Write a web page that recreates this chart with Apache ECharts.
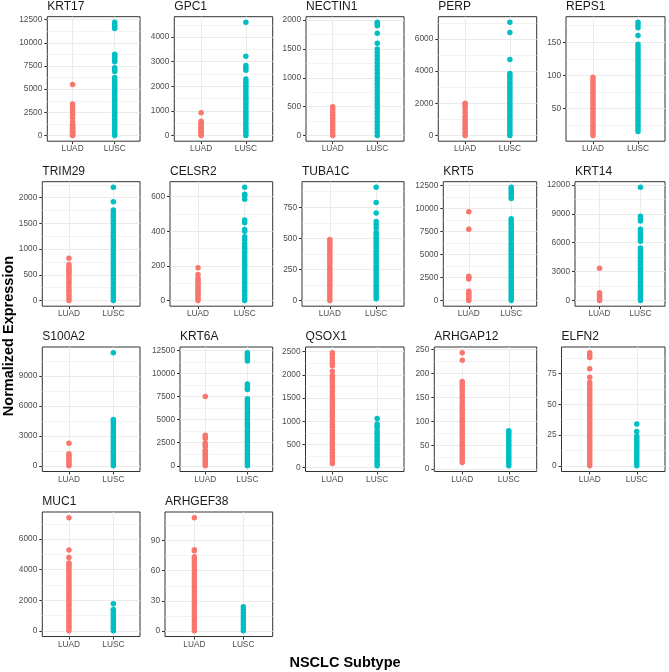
<!DOCTYPE html>
<html><head><meta charset="utf-8">
<script src="https://cdn.jsdelivr.net/npm/echarts@6/dist/echarts.min.js"></script>
<style>html,body{margin:0;padding:0;background:#fff}#c{width:669px;height:672px}</style>
</head><body><div id="c"></div>
<script>
const subtypes = ['LUAD', 'LUSC'];
const genes = ['KRT17','GPC1','NECTIN1','PERP','REPS1','TRIM29','CELSR2','TUBA1C','KRT5','KRT14','S100A2','KRT6A','QSOX1','ARHGAP12','ELFN2','MUC1','ARHGEF38'];

const KRT17_LUAD = [0, 60, 150, 250, 350, 450, 550, 650, 750, 850, 950, 1050, 1200, 1500, 1900, 2250, 2500, 2800, 3150, 3400, 5500];
const KRT17_LUSC = [0, 250, 500, 750, 1000, 1250, 1500, 1750, 2000, 2250, 2500, 2750, 3000, 3250, 3500, 3750, 4000, 4250, 4500, 4750, 5000, 5250, 5500, 5750, 6000, 6250, 6900, 7100, 7300, 7950, 8150, 8350, 8550, 8750, 11550, 11750, 11950, 12200];
const GPC1_LUAD = [0, 50, 100, 150, 200, 250, 300, 350, 400, 450, 500, 580, 930];
const GPC1_LUSC = [0, 100, 200, 300, 400, 500, 600, 700, 800, 900, 1000, 1100, 1200, 1300, 1400, 1500, 1600, 1700, 1800, 1900, 2000, 2100, 2200, 2300, 2650, 2750, 2850, 3220, 4600];
const NECTIN1_LUAD = [0, 50, 100, 150, 200, 250, 300, 350, 400, 450, 500];
const NECTIN1_LUSC = [0, 60, 120, 180, 240, 300, 360, 420, 480, 540, 600, 660, 720, 780, 840, 900, 960, 1020, 1080, 1140, 1200, 1260, 1320, 1380, 1440, 1500, 1600, 1770, 1900, 1930, 1960];
const PERP_LUAD = [0, 150, 300, 450, 600, 750, 900, 1050, 1200, 1400, 1600, 1800, 1950, 2000];
const PERP_LUSC = [0, 150, 300, 450, 600, 750, 900, 1050, 1200, 1350, 1500, 1650, 1800, 1950, 2100, 2250, 2400, 2550, 2700, 2850, 3000, 3150, 3300, 3450, 3600, 3750, 3850, 4730, 6400, 7030];
const REPS1_LUAD = [9, 13, 17, 21, 25, 29, 33, 37, 41, 45, 49, 53, 57, 61, 65, 69, 73, 77, 81, 85, 89, 93, 97];
const REPS1_LUSC = [15, 19, 23, 27, 31, 35, 39, 43, 47, 51, 55, 59, 63, 67, 71, 75, 79, 83, 87, 91, 95, 99, 103, 107, 111, 115, 119, 123, 127, 131, 135, 139, 143, 147, 160, 172, 176, 180];
const TRIM29_LUAD = [0, 50, 100, 150, 200, 250, 300, 350, 400, 450, 500, 550, 580, 620, 650, 700, 820];
const TRIM29_LUSC = [0, 60, 120, 180, 240, 300, 360, 420, 480, 540, 600, 660, 720, 780, 840, 900, 960, 1020, 1080, 1140, 1200, 1260, 1320, 1380, 1440, 1500, 1560, 1620, 1660, 1710, 1760, 1920, 2200];
const CELSR2_LUAD = [0, 13, 26, 39, 52, 65, 78, 91, 104, 117, 130, 150, 190];
const CELSR2_LUSC = [0, 15, 30, 45, 60, 75, 90, 105, 120, 135, 150, 165, 180, 195, 210, 225, 240, 255, 270, 285, 300, 315, 330, 350, 368, 400, 410, 450, 466, 585, 605, 614, 654];
const TUBA1C_LUAD = [0, 20, 40, 60, 80, 100, 120, 140, 160, 180, 200, 220, 240, 260, 280, 300, 320, 340, 360, 380, 400, 420, 440, 460, 480, 490];
const TUBA1C_LUSC = [15, 35, 55, 75, 95, 115, 135, 155, 175, 195, 215, 235, 255, 275, 295, 315, 335, 355, 375, 395, 415, 435, 455, 475, 495, 515, 535, 550, 583, 610, 636, 703, 788, 910];
const KRT5_LUAD = [0, 200, 400, 600, 800, 1000, 2350, 2500, 2650, 7750, 9650];
const KRT5_LUSC = [0, 250, 500, 750, 1000, 1250, 1500, 1750, 2000, 2250, 2500, 2750, 3000, 3250, 3500, 3750, 4000, 4250, 4500, 4750, 5000, 5250, 5500, 5750, 6000, 6250, 6600, 6850, 7100, 7350, 7650, 7900, 8150, 8400, 8650, 8900, 11100, 11350, 11600, 11850, 12100, 12300];
const KRT14_LUAD = [0, 200, 400, 600, 800, 3360];
const KRT14_LUSC = [0, 250, 500, 750, 1000, 1250, 1500, 1750, 2000, 2250, 2500, 2750, 3000, 3250, 3500, 3750, 4000, 4250, 4500, 4750, 5000, 5250, 5450, 6150, 6400, 6650, 6900, 7150, 7400, 8250, 8500, 8750, 11750];
const S100A2_LUAD = [0, 200, 400, 600, 800, 1000, 1200, 2260];
const S100A2_LUSC = [0, 250, 500, 750, 1000, 1250, 1500, 1750, 2000, 2250, 2500, 2750, 3000, 3250, 3500, 3750, 4000, 4300, 4500, 4650, 11330];
const KRT6A_LUAD = [0, 200, 400, 600, 800, 1000, 1200, 1400, 1600, 1700, 2100, 2300, 2450, 2950, 3100, 3300, 7510];
const KRT6A_LUSC = [0, 250, 500, 750, 1000, 1250, 1500, 1750, 2000, 2250, 2500, 2750, 3000, 3250, 3500, 3750, 4000, 4250, 4500, 4750, 5000, 5250, 5500, 5750, 6000, 6250, 6500, 6750, 7000, 7250, 8250, 8450, 8650, 8850, 11350, 11600, 11850, 12100, 12250];
const QSOX1_LUAD = [90, 150, 210, 270, 330, 390, 450, 510, 570, 630, 690, 750, 810, 870, 930, 990, 1050, 1110, 1170, 1230, 1290, 1350, 1410, 1470, 1530, 1590, 1650, 1710, 1770, 1830, 1890, 1950, 1990, 2080, 2200, 2240, 2300, 2370, 2440, 2480];
const QSOX1_LUSC = [40, 90, 140, 190, 240, 290, 340, 390, 440, 490, 540, 590, 640, 690, 740, 790, 870, 900, 940, 1062];
const ARHGAP12_LUAD = [14, 19, 24, 29, 34, 39, 44, 49, 54, 59, 64, 69, 74, 79, 84, 89, 94, 99, 104, 109, 114, 119, 124, 129, 135, 142, 149, 156, 162, 168, 173, 178, 183, 227, 243];
const ARHGAP12_LUSC = [7, 12, 17, 22, 27, 32, 37, 42, 47, 52, 57, 62, 67, 72, 77, 80];
const ELFN2_LUAD = [0, 2, 4, 6, 8, 10, 12, 14, 16, 18, 20, 22, 24, 26, 28, 30, 32, 34, 36, 38, 40, 42, 44, 46, 48, 50, 52, 54, 56, 58, 60, 62, 64, 66, 68, 72, 79, 88, 90, 92];
const ELFN2_LUSC = [0, 2, 4, 6, 8, 10, 12, 14, 16, 18, 20, 22, 24, 28, 34];
const MUC1_LUAD = [0, 150, 300, 450, 600, 750, 900, 1050, 1200, 1350, 1500, 1650, 1800, 1950, 2100, 2250, 2400, 2550, 2700, 2850, 3000, 3150, 3300, 3450, 3600, 3750, 3900, 4050, 4200, 4350, 4430, 4790, 5290, 7400];
const MUC1_LUSC = [0, 150, 300, 450, 600, 750, 900, 1050, 1200, 1350, 1400, 1770];
const ARHGEF38_LUAD = [0, 3, 6, 9, 12, 15, 18, 21, 24, 27, 30, 33, 36, 39, 42, 45, 48, 51, 54, 57, 60, 63, 66, 69, 72, 74, 80, 81, 113];
const ARHGEF38_LUSC = [0, 3, 6, 9, 12, 15, 18, 21, 24];

const KRT17_ticks = [0, 2500, 5000, 7500, 10000, 12500];
const GPC1_ticks = [0, 1000, 2000, 3000, 4000];
const NECTIN1_ticks = [0, 500, 1000, 1500, 2000];
const PERP_ticks = [0, 2000, 4000, 6000];
const REPS1_ticks = [50, 100, 150];
const TRIM29_ticks = [0, 500, 1000, 1500, 2000];
const CELSR2_ticks = [0, 200, 400, 600];
const TUBA1C_ticks = [0, 250, 500, 750];
const KRT5_ticks = [0, 2500, 5000, 7500, 10000, 12500];
const KRT14_ticks = [0, 3000, 6000, 9000, 12000];
const S100A2_ticks = [0, 3000, 6000, 9000];
const KRT6A_ticks = [0, 2500, 5000, 7500, 10000, 12500];
const QSOX1_ticks = [0, 500, 1000, 1500, 2000, 2500];
const ARHGAP12_ticks = [0, 50, 100, 150, 200, 250];
const ELFN2_ticks = [0, 25, 50, 75];
const MUC1_ticks = [0, 2000, 4000, 6000];
const ARHGEF38_ticks = [0, 30, 60, 90];

const dataSets = {
  KRT17: [KRT17_LUAD, KRT17_LUSC, KRT17_ticks], GPC1: [GPC1_LUAD, GPC1_LUSC, GPC1_ticks],
  NECTIN1: [NECTIN1_LUAD, NECTIN1_LUSC, NECTIN1_ticks], PERP: [PERP_LUAD, PERP_LUSC, PERP_ticks],
  REPS1: [REPS1_LUAD, REPS1_LUSC, REPS1_ticks], TRIM29: [TRIM29_LUAD, TRIM29_LUSC, TRIM29_ticks],
  CELSR2: [CELSR2_LUAD, CELSR2_LUSC, CELSR2_ticks], TUBA1C: [TUBA1C_LUAD, TUBA1C_LUSC, TUBA1C_ticks],
  KRT5: [KRT5_LUAD, KRT5_LUSC, KRT5_ticks], KRT14: [KRT14_LUAD, KRT14_LUSC, KRT14_ticks],
  S100A2: [S100A2_LUAD, S100A2_LUSC, S100A2_ticks], KRT6A: [KRT6A_LUAD, KRT6A_LUSC, KRT6A_ticks],
  QSOX1: [QSOX1_LUAD, QSOX1_LUSC, QSOX1_ticks], ARHGAP12: [ARHGAP12_LUAD, ARHGAP12_LUSC, ARHGAP12_ticks],
  ELFN2: [ELFN2_LUAD, ELFN2_LUSC, ELFN2_ticks], MUC1: [MUC1_LUAD, MUC1_LUSC, MUC1_ticks],
  ARHGEF38: [ARHGEF38_LUAD, ARHGEF38_LUSC, ARHGEF38_ticks]
};

// layout (pixels)
const rowTop = [16.7, 181.7, 347, 512];
const panelH = 124.5;
const colRight = [140, 272.7, 404, 536.7, 665];
const panelLeft = [47.3, 174.3, 306, 438.3, 566, 42.3, 170, 302, 443.3, 575, 42.3, 180, 305.5, 434.3, 561.5, 42.3, 165];
const FONT = '"Liberation Sans", Arial, Helvetica, sans-serif';
const colors = ['#F8766D', '#00BFC4'];

const chart = echarts.init(document.getElementById('c'), null, {renderer: 'canvas'});
const option = {animation: false, backgroundColor: '#ffffff', title: [], grid: [], xAxis: [], yAxis: [], series: [], graphic: []};

genes.forEach((g, i) => {
  const [luad, lusc, ticks] = dataSets[g];
  const r = Math.floor(i / 5), c = i % 5;
  const left = panelLeft[i], top = rowTop[r], width = colRight[c] - left;
  option.grid.push({left: left, top: top, width: width, height: panelH, show: true, backgroundColor: '#ffffff',
    borderColor: '#333333', borderWidth: 1, containLabel: false, outerBoundsMode: 'none'});
  const all = luad.concat(lusc);
  const lo = Math.min(...all), hi = Math.max(...all), pad = (hi - lo) * 0.05;
  const ymin = lo - pad, ymax = hi + pad;
  const step = ticks[1] - ticks[0];
  const minors = [];
  for (let k = -1; k < ticks.length; k++) {
    const v = ticks[0] + (k + 0.5) * step;
    if (v > ymin && v < ymax) minors.push(v);
  }
  option.title.push({text: g, left: left, top: top - 16.5, padding: 0,
    textStyle: {fontSize: 12, fontWeight: 'normal', color: '#1A1A1A', fontFamily: FONT}});
  option.xAxis.push({type: 'value', gridIndex: i, min: 0.4, max: 2.6,
    axisLine: {show: false, onZero: false},
    axisTick: {show: true, length: 3, lineStyle: {color: '#333333', width: 1}, customValues: [1, 2]},
    axisLabel: {customValues: [1, 2], formatter: v => subtypes[Math.round(v) - 1], fontSize: 8.3, color: '#4D4D4D', margin: 4, fontFamily: FONT},
    splitLine: {show: true, lineStyle: {color: '#EBEBEB', width: 1}}});
  option.yAxis.push({type: 'value', gridIndex: i, min: ymin, max: ymax,
    axisLine: {show: false, onZero: false},
    axisTick: {show: true, length: 3, lineStyle: {color: '#333333', width: 1}, customValues: ticks},
    axisLabel: {customValues: ticks, formatter: v => String(v), fontSize: 8.3, color: '#4D4D4D', margin: 5, fontFamily: FONT},
    splitLine: {show: true, lineStyle: {color: '#EBEBEB', width: 1}}});
  [luad, lusc].forEach((vals, s) => {
    const ser = {type: 'scatter', xAxisIndex: i, yAxisIndex: i, data: vals.map(v => [s + 1, v]),
      symbol: 'circle', symbolSize: 5.5, itemStyle: {color: colors[s], opacity: 1}, silent: true, z: 3};
    if (s === 0) {
      ser.markLine = {silent: true, symbol: 'none', z: 1, animation: false,
        label: {show: false}, emphasis: {disabled: true},
        lineStyle: {color: '#EBEBEB', width: 0.6, type: 'solid'},
        data: minors.map(v => ({yAxis: v}))};
    }
    option.series.push(ser);
  });
});

option.graphic.push({type: 'text', x: 9, y: 336, rotation: Math.PI / 2,
  style: {text: 'Normalized Expression', fontSize: 14.5, fontWeight: 'bold', fontFamily: FONT, fill: '#000000', align: 'center', verticalAlign: 'middle'}});
option.graphic.push({type: 'text', x: 345, y: 663,
  style: {text: 'NSCLC Subtype', fontSize: 14.5, fontWeight: 'bold', fontFamily: FONT, fill: '#000000', align: 'center', verticalAlign: 'middle'}});

chart.setOption(option);
</script>
</body></html>
